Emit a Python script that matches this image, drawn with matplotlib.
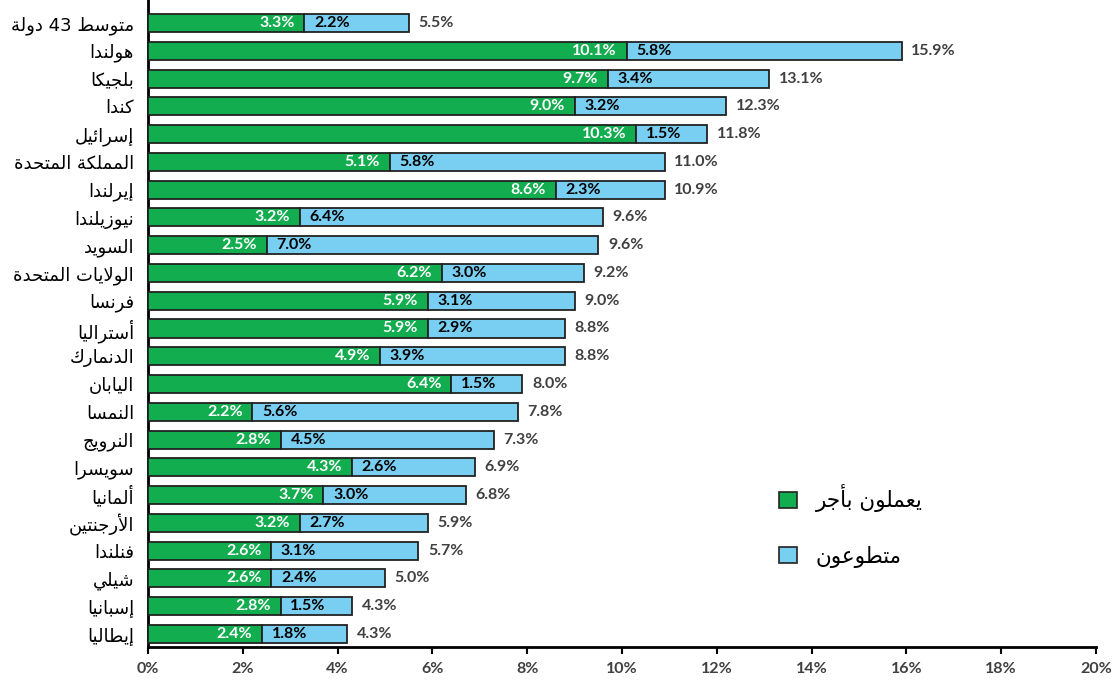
import matplotlib
matplotlib.use("Agg")
import matplotlib.pyplot as plt
from matplotlib.patches import Patch

# ---------------- data ----------------
countries = ["متوسط 43 دولة", "هولندا", "بلجيكا", "كندا", "إسرائيل", "المملكة المتحدة",
             "إيرلندا", "نيوزيلندا", "السويد", "الولايات المتحدة", "فرنسا", "أستراليا",
             "الدنمارك", "اليابان", "النمسا", "النرويج", "سويسرا", "ألمانيا",
             "الأرجنتين", "فنلندا", "شيلي", "إسبانيا", "إيطاليا"]
paid = [3.3, 10.1, 9.7, 9.0, 10.3, 5.1, 8.6, 3.2, 2.5, 6.2, 5.9, 5.9, 4.9, 6.4,
        2.2, 2.8, 4.3, 3.7, 3.2, 2.6, 2.6, 2.8, 2.4]
volunteer = [2.2, 5.8, 3.4, 3.2, 1.5, 5.8, 2.3, 6.4, 7.0, 3.0, 3.1, 2.9, 3.9, 1.5,
             5.6, 4.5, 2.6, 3.0, 2.7, 3.1, 2.4, 1.5, 1.8]
totals = [5.5, 15.9, 13.1, 12.3, 11.8, 11.0, 10.9, 9.6, 9.6, 9.2, 9.0, 8.8, 8.8, 8.0,
          7.8, 7.3, 6.9, 6.8, 5.9, 5.7, 5.0, 4.3, 4.3]
legend_labels = ["يعملون بأجر", "متطوعون"]
xticks = [0, 2, 4, 6, 8, 10, 12, 14, 16, 18, 20]

# ---------------- simple Arabic shaping ----------------
FORMS = {
    'ء': (0xFE80, None, None, None),
    'آ': (0xFE81, 0xFE82, None, None),
    'أ': (0xFE83, 0xFE84, None, None),
    'ؤ': (0xFE85, 0xFE86, None, None),
    'إ': (0xFE87, 0xFE88, None, None),
    'ئ': (0xFE89, 0xFE8A, 0xFE8B, 0xFE8C),
    'ا': (0xFE8D, 0xFE8E, None, None),
    'ب': (0xFE8F, 0xFE90, 0xFE91, 0xFE92),
    'ة': (0xFE93, 0xFE94, None, None),
    'ت': (0xFE95, 0xFE96, 0xFE97, 0xFE98),
    'ث': (0xFE99, 0xFE9A, 0xFE9B, 0xFE9C),
    'ج': (0xFE9D, 0xFE9E, 0xFE9F, 0xFEA0),
    'ح': (0xFEA1, 0xFEA2, 0xFEA3, 0xFEA4),
    'خ': (0xFEA5, 0xFEA6, 0xFEA7, 0xFEA8),
    'د': (0xFEA9, 0xFEAA, None, None),
    'ذ': (0xFEAB, 0xFEAC, None, None),
    'ر': (0xFEAD, 0xFEAE, None, None),
    'ز': (0xFEAF, 0xFEB0, None, None),
    'س': (0xFEB1, 0xFEB2, 0xFEB3, 0xFEB4),
    'ش': (0xFEB5, 0xFEB6, 0xFEB7, 0xFEB8),
    'ص': (0xFEB9, 0xFEBA, 0xFEBB, 0xFEBC),
    'ض': (0xFEBD, 0xFEBE, 0xFEBF, 0xFEC0),
    'ط': (0xFEC1, 0xFEC2, 0xFEC3, 0xFEC4),
    'ظ': (0xFEC5, 0xFEC6, 0xFEC7, 0xFEC8),
    'ع': (0xFEC9, 0xFECA, 0xFECB, 0xFECC),
    'غ': (0xFECD, 0xFECE, 0xFECF, 0xFED0),
    'ف': (0xFED1, 0xFED2, 0xFED3, 0xFED4),
    'ق': (0xFED5, 0xFED6, 0xFED7, 0xFED8),
    'ك': (0xFED9, 0xFEDA, 0xFEDB, 0xFEDC),
    'ل': (0xFEDD, 0xFEDE, 0xFEDF, 0xFEE0),
    'م': (0xFEE1, 0xFEE2, 0xFEE3, 0xFEE4),
    'ن': (0xFEE5, 0xFEE6, 0xFEE7, 0xFEE8),
    'ه': (0xFEE9, 0xFEEA, 0xFEEB, 0xFEEC),
    'و': (0xFEED, 0xFEEE, None, None),
    'ى': (0xFEEF, 0xFEF0, None, None),
    'ي': (0xFEF1, 0xFEF2, 0xFEF3, 0xFEF4),
}
LAM_ALEF = {'آ': (0xFEF5, 0xFEF6), 'أ': (0xFEF7, 0xFEF8),
            'إ': (0xFEF9, 0xFEFA), 'ا': (0xFEFB, 0xFEFC)}


def joins_next(c):
    return c in FORMS and FORMS[c][2] is not None


def joins_prev(c):
    return c in FORMS and FORMS[c][1] is not None


def shape_word(word):
    units = []
    i = 0
    while i < len(word):
        c = word[i]
        if c == 'ل' and i + 1 < len(word) and word[i + 1] in LAM_ALEF:
            units.append(('LA', word[i + 1]))
            i += 2
        else:
            units.append(('C', c))
            i += 1
    out = []
    for k, (kind, c) in enumerate(units):
        prev = units[k - 1] if k > 0 else None
        nxt = units[k + 1] if k + 1 < len(units) else None
        prev_con = prev is not None and prev[0] == 'C' and joins_next(prev[1])
        if kind == 'LA':
            iso, fin = LAM_ALEF[c]
            out.append(chr(fin if prev_con else iso))
            continue
        if c not in FORMS:
            out.append(c)
            continue
        iso, fin, ini, med = FORMS[c]
        next_con = nxt is not None and joins_next(c) and (
            nxt[0] == 'LA' or joins_prev(nxt[1]))
        prev_con = prev_con and fin is not None
        if prev_con and next_con:
            out.append(chr(med))
        elif prev_con:
            out.append(chr(fin))
        elif next_con:
            out.append(chr(ini))
        else:
            out.append(chr(iso))
    return ''.join(out)


def ar(text):
    tokens = text.split(' ')
    vis = []
    for t in reversed(tokens):
        if any(ch in FORMS for ch in t):
            vis.append(shape_word(t)[::-1])
        else:
            vis.append(t)
    return ' '.join(vis)


# ---------------- plot ----------------
GREEN = "#12AD4F"
BLUE = "#79CFF1"
num_font = "Lato"
ar_font = ["DejaVu Sans"]

fig = plt.figure(figsize=(11.13, 6.82), dpi=100)
ax = fig.add_axes([148 / 1113, 35 / 682, (1096 - 148) / 1113, 647 / 682])

n = len(countries)
ypos = [n - 1 - i for i in range(n)]
bh = 0.65
ax.barh(ypos, paid, height=bh, color=GREEN, edgecolor="#222222", linewidth=1.3, zorder=3)
ax.barh(ypos, volunteer, left=paid, height=bh, color=BLUE, edgecolor="#222222",
        linewidth=1.3, zorder=3)

for y, p, v, t in zip(ypos, paid, volunteer, totals):
    ax.annotate(f"{p:.1f}%", xy=(p, y), xytext=(-7, 0), textcoords="offset points",
                ha="right", va="center", color="white", fontsize=11.5,
                fontweight="bold", family=num_font, zorder=4)
    ax.annotate(f"{v:.1f}%", xy=(p, y), xytext=(7, 0), textcoords="offset points",
                ha="left", va="center", color="black", fontsize=11.5,
                fontweight="bold", family=num_font, zorder=4)
    ax.annotate(f"{t:.1f}%", xy=(p + v, y), xytext=(7, 0), textcoords="offset points",
                ha="left", va="center", color="#404040", fontsize=11.5,
                fontweight="bold", family=num_font, zorder=4)

ax.set_xlim(0, 20)
ax.set_ylim(-0.47, n - 1 + 0.83)
ax.set_xticks(xticks)
ax.set_xticklabels([f"{x}%" for x in xticks], fontsize=11.5, fontweight="bold",
                   family=num_font, color="#404040")
ax.set_yticks(ypos)
ax.set_yticklabels([ar(c) for c in countries], fontsize=13, family=ar_font, color="black")
ax.tick_params(axis="y", length=0, pad=10)
ax.tick_params(axis="x", length=5, width=1.5, direction="out", pad=6, color="black")
for s in ["top", "right"]:
    ax.spines[s].set_visible(False)
for s in ["left", "bottom"]:
    ax.spines[s].set_linewidth(2)
    ax.spines[s].set_color("black")

handles = [Patch(facecolor=GREEN, edgecolor="#222222", linewidth=1.2),
           Patch(facecolor=BLUE, edgecolor="#222222", linewidth=1.2)]
leg = ax.legend(handles, [ar(l) for l in legend_labels], loc="upper left",
                bbox_to_anchor=(760 / 1113, 1 - 465 / 682), bbox_transform=fig.transFigure,
                frameon=False, handlelength=0.8, handleheight=0.8, handletextpad=0.9,
                labelspacing=1.55, prop={"family": ar_font, "size": 15.5})

fig.savefig("out.png", dpi=100)
